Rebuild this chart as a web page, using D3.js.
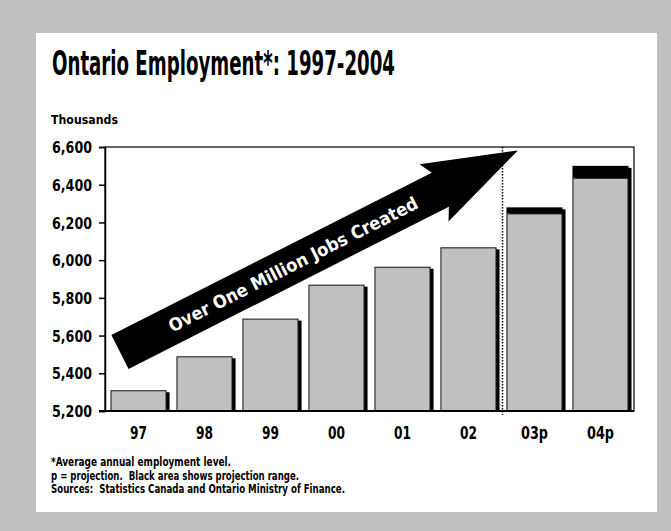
<!DOCTYPE html>
<html><head><meta charset="utf-8">
<script src="https://cdn.jsdelivr.net/npm/d3@7"></script>
<style>
html,body{margin:0;padding:0;background:#c0c0c0;}
svg{display:block;}
text{font-family:"Liberation Sans Narrow","DejaVu Sans Condensed","Arial Narrow",sans-serif;font-weight:bold;fill:#000;white-space:pre;}
</style></head>
<body>
<script>
const categories = ["97","98","99","00","01","02","03p","04p"];
const employment = [5310, 5490, 5690, 5870, 5965, 6068, 6248, 6437];
const projectionHigh = [null, null, null, null, null, null, 6280, 6500];
const yTicks = [5200, 5400, 5600, 5800, 6000, 6200, 6400, 6600];
const title = "Ontario Employment*: 1997-2004";
const unitLabel = "Thousands";
const arrowLabel = "Over One Million Jobs Created";
const notes = ["*Average annual employment level.",
  "p = projection.  Black area shows projection range.",
  "Sources:  Statistics Canada and Ontario Ministry of Finance."];

const W = 671, H = 531;
const svg = d3.select("body").append("svg").attr("width", W).attr("height", H);
svg.append("rect").attr("width", W).attr("height", H).attr("fill", "#c0c0c0");
svg.append("rect").attr("x", 36).attr("y", 33).attr("width", 621).attr("height", 479).attr("fill", "#fff");

svg.append("text").attr("x", 52).attr("y", 75).attr("font-size", 33)
  .attr("textLength", 343).attr("lengthAdjust", "spacingAndGlyphs").text(title);
svg.append("text").attr("x", 51).attr("y", 124).attr("font-size", 12.5)
  .attr("textLength", 67).attr("lengthAdjust", "spacingAndGlyphs").text(unitLabel);

const L = 105, R = 634, T = 147, B = 411;
const x = d3.scaleBand().domain(categories).range([L, R]).paddingInner(0.15).paddingOuter(0.083);
const y = d3.scaleLinear().domain([5200, 6600]).range([B, T]);

// frame
svg.append("rect").attr("x", L).attr("y", T).attr("width", R - L).attr("height", B - T)
  .attr("fill", "none").attr("stroke", "#000").attr("stroke-width", 1.2);

const bars = categories.map((c, i) => ({c, v: employment[i], hi: projectionHigh[i]}));
const bw = x.bandwidth();
const g = svg.append("g");
// shadows
g.selectAll("rect.sh").data(bars).join("rect").attr("class", "sh")
  .attr("x", d => x(d.c) + 3).attr("y", d => y(d.hi || d.v) + 2)
  .attr("width", bw).attr("height", d => B - y(d.hi || d.v) - 2).attr("fill", "#000");
// projection range
g.selectAll("rect.pr").data(bars.filter(d => d.hi)).join("rect").attr("class", "pr")
  .attr("x", d => x(d.c)).attr("y", d => y(d.hi))
  .attr("width", bw).attr("height", d => y(d.v) - y(d.hi)).attr("fill", "#000");
// bars
g.selectAll("rect.b").data(bars).join("rect").attr("class", "b")
  .attr("x", d => x(d.c) + 0.5).attr("y", d => y(d.v) + 0.5)
  .attr("width", bw - 1).attr("height", d => B - y(d.v) - 0.5)
  .attr("fill", "#c0c0c0").attr("stroke", "#111").attr("stroke-width", 1);

// dotted projection divider
const xd = (x("02") + bw + x("03p")) / 2 + 1;
svg.append("line").attr("x1", xd).attr("x2", xd).attr("y1", T).attr("y2", B + 4)
  .attr("stroke", "#000").attr("stroke-width", 1.5).attr("stroke-dasharray", "1.5,1.5");

// axes
const ya = d3.axisLeft(y).tickValues(yTicks).tickSize(6).tickFormat(d3.format(","));
const yg = svg.append("g").attr("transform", `translate(${L},0)`).call(ya);
yg.select(".domain").attr("stroke-width", 1.5);
yg.selectAll(".tick line").attr("stroke-width", 1.5);
yg.selectAll(".tick text").attr("x", -13).attr("font-size", 15.5).attr("font-family", null)
  .attr("textLength", 40).attr("lengthAdjust", "spacingAndGlyphs").attr("dy", "0.36em");

svg.append("line").attr("x1", L - 6).attr("x2", R).attr("y1", B).attr("y2", B)
  .attr("stroke", "#000").attr("stroke-width", 2);

const xa = d3.axisBottom(x).tickSize(0).tickPadding(16);
const xg = svg.append("g").attr("transform", `translate(0,${B})`).call(xa);
xg.select(".domain").remove();
xg.selectAll(".tick text").attr("font-size", 17).attr("font-family", null)
  .attr("textLength", d => d.length === 3 ? 27 : 17).attr("lengthAdjust", "spacingAndGlyphs");

// arrow annotation
const tail = [x("97") + 9.5, y(5513)];
const tip = [x("03p") + 11.5, y(6582)];
const len = Math.hypot(tip[0] - tail[0], tip[1] - tail[1]);
const ang = Math.atan2(tip[1] - tail[1], tip[0] - tail[0]) * 180 / Math.PI;
const hb = len - 94, hj = len - 87;
const ag = svg.append("g").attr("transform", `translate(${tail[0]},${tail[1]}) rotate(${ang})`);
ag.append("path").attr("fill", "#000")
  .attr("d", d3.line()([[0,-19],[hj,-19],[hb,-32],[len,0],[hb,32],[hj,19],[0,19]]) + "Z");
ag.append("text").attr("x", 194).attr("y", 0).attr("dy", "0.36em").attr("text-anchor", "middle")
  .attr("font-size", 18).attr("textLength", 277).attr("lengthAdjust", "spacingAndGlyphs")
  .style("fill", "#fff").text(arrowLabel);

// footnotes
const nw = [180, 248, 294];
svg.selectAll("text.note").data(notes).join("text").attr("class", "note")
  .attr("x", 51).attr("y", (d, i) => 466 + i * 13.5).attr("font-size", 11.5)
  .attr("textLength", (d, i) => nw[i]).attr("lengthAdjust", "spacingAndGlyphs").text(d => d);
</script>
</body></html>
